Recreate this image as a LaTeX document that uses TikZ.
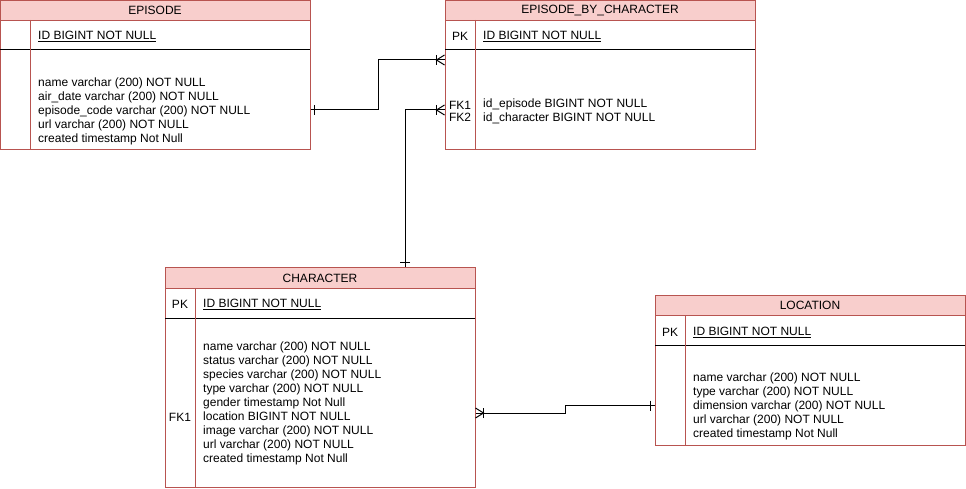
\documentclass[tikz,border=0pt]{standalone}
\usepackage{fontspec}
\setmainfont{Liberation Sans}
\usetikzlibrary{calc}

\definecolor{erpink}{HTML}{F8CECC}
\definecolor{erred}{HTML}{B85450}

\tikzset{
    tablebox/.style={draw=erred, line width=1pt, rectangle, inner sep=0pt, minimum width=310pt},
    headbox/.style={draw=erred, fill=erpink, line width=1pt, rectangle, inner sep=0pt,
        minimum width=310pt, minimum height=20pt, anchor=north, font=\fontsize{12}{14}\selectfont},
    keyline/.style={black, line width=1pt},
    colline/.style={erred, line width=1pt},
    fieldtext/.style={anchor=west, align=left, inner sep=0pt, font=\fontsize{12}{14}\selectfont},
    keytag/.style={align=center, inner sep=0pt, font=\fontsize{12}{12}\selectfont},
    relline/.style={black, line width=1pt},
    oneend/.pic={\draw[relline] (-4,-5) -- (-4,5);},
    manyend/.pic={\draw[relline] (-8,-5) -- (-8,5);
                  \draw[relline] (0,-5) -- (-8,0) -- (0,5);}
}

\begin{document}
\begin{tikzpicture}[x=1pt, y=-1pt]
            \useasboundingbox (0,0) rectangle (966,489);

            % EPISODE
            \node[tablebox, minimum height=150pt] (episode) at (155,75) {};
            \node[headbox] (episodeHead) at ([yshift=-0.5pt]episode.north) {EPISODE};
            \draw[keyline] (0,50) -- (310,50);
            \draw[colline] (30,20) -- (30,150);
            \node[fieldtext] (episodeId) at (38,36.5) {\underline{ID BIGINT NOT NULL}};
            \node[fieldtext] (episodeBody) at (38,111.5) {name varchar (200) NOT NULL\\air\_date varchar (200) NOT NULL\\episode\_code varchar (200) NOT NULL\\url varchar (200) NOT NULL\\created timestamp Not Null};

            % EPISODE_BY_CHARACTER
            \node[tablebox, minimum height=150pt] (ebc) at (600,75) {};
            \node[headbox] (ebcHead) at ([yshift=-0.5pt]ebc.north) {EPISODE\_BY\_CHARACTER};
            \draw[keyline] (445,50) -- (755,50);
            \draw[colline] (475,20) -- (475,150);
            \node[keytag] (ebcPk) at (460,36.5) {PK};
            \node[fieldtext] (ebcId) at (483,36.5) {\underline{ID BIGINT NOT NULL}};
            \node[keytag] (ebcFk) at (460,111.5) {FK1\\FK2};
            \node[fieldtext] (ebcBody) at (483,111.5) {id\_episode BIGINT NOT NULL\\id\_character BIGINT NOT NULL};

            % CHARACTER
            \node[tablebox, minimum height=220pt] (character) at (320,377) {};
            \node[headbox, minimum height=21pt] (characterHead) at ([yshift=-0.5pt]character.north) {CHARACTER};
            \draw[keyline] (165,318) -- (475,318);
            \draw[colline] (195,288) -- (195,487);
            \node[keytag] (characterPk) at (180,304.5) {PK};
            \node[fieldtext] (characterId) at (203,304.5) {\underline{ID BIGINT NOT NULL}};
            \node[keytag] (characterFk) at (180,417.5) {FK1};
            \node[fieldtext] (characterBody) at (203,403.5) {name varchar (200) NOT NULL\\status varchar (200) NOT NULL\\species varchar (200) NOT NULL\\type varchar (200) NOT NULL\\gender timestamp Not Null\\location BIGINT NOT NULL\\image varchar (200) NOT NULL\\url varchar (200) NOT NULL\\created timestamp Not Null};

            % LOCATION
            \node[tablebox, minimum height=150pt] (location) at (810,370) {};
            \node[headbox] (locationHead) at ([yshift=-0.5pt]location.north) {LOCATION};
            \draw[keyline] (655,345) -- (965,345);
            \draw[colline] (685,315) -- (685,445);
            \node[keytag] (locationPk) at (670,332.5) {PK};
            \node[fieldtext] (locationId) at (693,332.5) {\underline{ID BIGINT NOT NULL}};
            \node[fieldtext] (locationBody) at (693,406.5) {name varchar (200) NOT NULL\\type varchar (200) NOT NULL\\dimension varchar (200) NOT NULL\\url varchar (200) NOT NULL\\created timestamp Not Null};

            % relations
            \coordinate (epRight) at ([yshift=-35pt]episode.east);
            \coordinate (ebcUpper) at ([yshift=15pt]ebc.west);
            \coordinate (ebcLower) at ([yshift=-35pt]ebc.west);
            \coordinate (chTop) at ([xshift=85pt]character.north);
            \coordinate (chRight) at ([yshift=-36pt]character.east);
            \coordinate (locLeft) at ([yshift=-35.5pt]location.west);

            \draw[relline] (epRight) -- ++(68,0) |- (ebcUpper);
            \draw[relline] (chTop) |- (ebcLower);
            \draw[relline] (chRight) -- ++(90,0) |- (locLeft);

            \pic[rotate=180] at (epRight) {oneend};
            \pic at (ebcUpper) {manyend};
            \pic at (ebcLower) {manyend};
            \pic[rotate=-90] at (chTop) {oneend};
            \pic[rotate=180] at (chRight) {manyend};
            \pic at (locLeft) {oneend};

         \end{tikzpicture}
\end{document}
